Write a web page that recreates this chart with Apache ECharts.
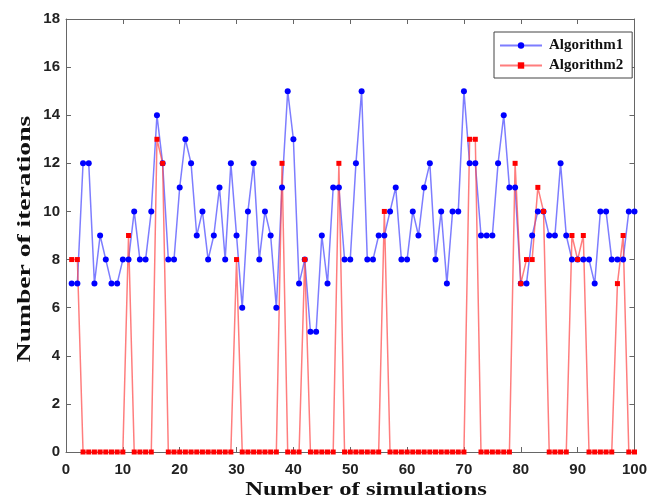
<!DOCTYPE html>
<html>
<head>
<meta charset="utf-8">
<script src="https://cdn.jsdelivr.net/npm/echarts@6/dist/echarts.min.js"></script>
<style>html,body{margin:0;padding:0;background:#fff;}#c{width:650px;height:500px;}</style>
</head>
<body>
<div id="c"></div>
<script>
const simulations = Array.from({length: 100}, (_, i) => i + 1);
const algorithm1 = [7,7,12,12,7,9,8,7,7,8, 8,10,8,8,10,14,12,8,8,11,
  13,12,9,10,8,9,11,8,12,9, 6,10,12,8,10,9,6,11,15,13,
  7,8,5,5,9,7,11,11,8,8, 12,15,8,8,9,9,10,11,8,8,
  10,9,11,12,8,10,7,10,10,15, 12,12,9,9,9,12,14,11,11,7,
  7,9,10,10,9,9,12,9,8,8, 8,8,7,10,10,8,8,8,10,10];
const algorithm2 = [8,8,0,0,0,0,0,0,0,0, 9,0,0,0,0,13,12,0,0,0,
  0,0,0,0,0,0,0,0,0,8, 0,0,0,0,0,0,0,12,0,0,
  0,8,0,0,0,0,0,12,0,0, 0,0,0,0,0,10,0,0,0,0,
  0,0,0,0,0,0,0,0,0,0, 13,13,0,0,0,0,0,0,12,7,
  8,8,11,10,0,0,0,0,9,8, 9,0,0,0,0,0,7,9,0,0];
const xTicks = [0,10,20,30,40,50,60,70,80,90,100];
const yTicks = [0,2,4,6,8,10,12,14,16,18];
const xTitle = 'Number of simulations';
const yTitle = 'Number of iterations';

const chart = echarts.init(document.getElementById('c'));
const axisLineStyle = {color: '#666', width: 1};
const labelFont = {fontFamily: 'Liberation Sans', fontWeight: 'bold', fontSize: 15, color: '#222'};
const titleFont = {fontFamily: 'Liberation Serif', fontWeight: 'bold', fontSize: 19, fill: '#111'};
chart.setOption({
  animation: false,
  grid: {left: 66, right: 9, top: 19, bottom: 48},
  legend: {
    orient: 'vertical', left: 494, top: 32,
    borderColor: '#444', borderWidth: 1, backgroundColor: '#fff',
    padding: [6, 9, 5, 5], itemGap: 5, itemWidth: 42, itemHeight: 8,
    textStyle: {fontFamily: 'Liberation Serif', fontWeight: 'bold', fontSize: 15, color: '#111', padding: [0, 0, 0, 2]},
    data: ['Algorithm1', 'Algorithm2']
  },
  graphic: [{
    type: 'text', x: 366, y: 490, scaleX: 1.3,
    style: Object.assign({text: xTitle, align: 'center', verticalAlign: 'middle'}, titleFont)
  }, {
    type: 'text', x: 25, y: 239, rotation: Math.PI / 2, scaleX: 1.45,
    style: Object.assign({text: yTitle, align: 'center', verticalAlign: 'middle'}, titleFont)
  }],
  xAxis: [{
    type: 'value', min: xTicks[0], max: xTicks[xTicks.length-1], interval: 10,
    axisLine: {lineStyle: axisLineStyle}, axisTick: {inside: true, length: 5, lineStyle: axisLineStyle},
    axisLabel: Object.assign({margin: 10}, labelFont), splitLine: {show: false}
  }, {
    type: 'value', position: 'top', min: 0, max: 100, interval: 10,
    axisLine: {show: true, onZero: false, lineStyle: axisLineStyle}, axisTick: {show: true, inside: true, length: 5, lineStyle: axisLineStyle},
    axisLabel: {show: false}, splitLine: {show: false}
  }],
  yAxis: [{
    type: 'value', min: yTicks[0], max: yTicks[yTicks.length-1], interval: 2,
    axisLine: {show: true, onZero: false, lineStyle: axisLineStyle}, axisTick: {show: true, inside: true, length: 5, lineStyle: axisLineStyle},
    axisLabel: Object.assign({margin: 6}, labelFont), splitLine: {show: false}
  }, {
    type: 'value', position: 'right', min: 0, max: 18, interval: 2,
    axisLine: {show: true, onZero: false, lineStyle: axisLineStyle}, axisTick: {show: true, inside: true, length: 5, lineStyle: axisLineStyle},
    axisLabel: {show: false}, splitLine: {show: false}
  }],
  series: [{
    name: 'Algorithm1', type: 'line', xAxisIndex: 0, yAxisIndex: 0,
    data: simulations.map((x, i) => [x, algorithm1[i]]),
    symbol: 'circle', symbolSize: 6, showAllSymbol: true,
    itemStyle: {color: '#0000ff'},
    lineStyle: {color: 'rgba(70,70,255,0.7)', width: 1.5}
  }, {
    name: 'Algorithm2', type: 'line', xAxisIndex: 0, yAxisIndex: 0,
    data: simulations.map((x, i) => [x, algorithm2[i]]),
    symbol: 'rect', symbolSize: 5, showAllSymbol: true,
    itemStyle: {color: '#ff0000'},
    lineStyle: {color: 'rgba(255,70,70,0.7)', width: 1.5}
  }]
});
</script>
</body>
</html>
